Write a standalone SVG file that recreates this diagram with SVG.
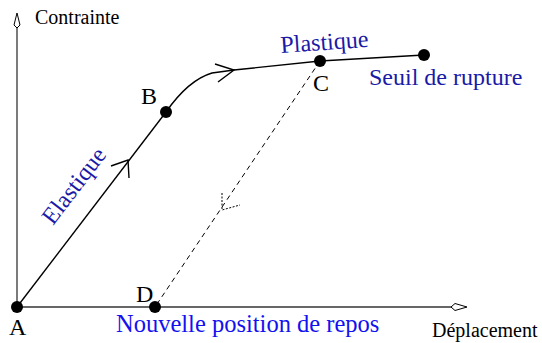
<svg xmlns="http://www.w3.org/2000/svg" width="542" height="343" viewBox="0 0 542 343">
<style>
.ax{stroke:#333;stroke-width:1.3;fill:none}
.ah{stroke:#000;stroke-width:1;fill:#fff}
.cv{stroke:#000;stroke-width:1.4;fill:none}
.dash{stroke:#000;stroke-width:1;fill:none;stroke-dasharray:5,4}
.dot{fill:#000}
.lbl{font-family:"Liberation Serif",serif;font-size:24px;fill:#000}
.ax-t{font-family:"Liberation Serif",serif;font-size:20px;fill:#000}
.dk{font-family:"Liberation Serif",serif;font-size:24px;fill:#1a1aa6}
.br{font-family:"Liberation Serif",serif;font-size:24.5px;fill:#1212f0}
</style>
<rect width="542" height="343" fill="#fff"/>
<g id="axes">
<line class="ax" x1="17" y1="307" x2="17" y2="27"/>
<polygon class="ah" points="17,13 20,25 17,28 14,25"/>
<line class="ax" x1="17" y1="307" x2="452" y2="307"/>
<polygon class="ah" points="467,307 455,303.5 451,307 455,310.5"/>
<text class="ax-t" x="35" y="24">Contrainte</text>
<text class="ax-t" x="432" y="337">Déplacement</text>
</g>
<g id="connectors">
<line class="cv" x1="17" y1="307" x2="166" y2="112"/>
<polyline class="cv" points="111,166 128,160 129,178"/>
<path class="cv" d="M166,112 C180,92 195,78 212,73 L234,70 L320,61 L424,55"/>
<polyline class="cv" points="215,64 234,70 218,82"/>
<line class="dash" x1="320" y1="61" x2="155" y2="307"/>
<polyline class="ah" style="fill:none;stroke-dasharray:2,1.5" points="222,193 222,210 240,205"/>
</g>
<g id="node-A"><circle class="dot" cx="17" cy="307" r="6"/><text class="lbl" x="9" y="335">A</text></g>
<g id="node-B"><circle class="dot" cx="166" cy="112" r="6"/><text class="lbl" x="141" y="104">B</text></g>
<g id="node-C"><circle class="dot" cx="320" cy="61" r="6"/><text class="lbl" x="313" y="91">C</text></g>
<g id="node-rupture"><circle class="dot" cx="424" cy="55" r="6"/><text class="dk" x="369" y="85">Seuil de rupture</text></g>
<g id="node-D"><circle class="dot" cx="155" cy="307" r="6"/><text class="lbl" x="136" y="302">D</text><text class="br" x="116" y="332">Nouvelle position de repos</text></g>
<g id="labels">
<text class="dk" transform="translate(53,226) rotate(-52.6)">Elastique</text>
<text class="dk" transform="translate(281,53) rotate(-4)">Plastique</text>
</g>
</svg>
